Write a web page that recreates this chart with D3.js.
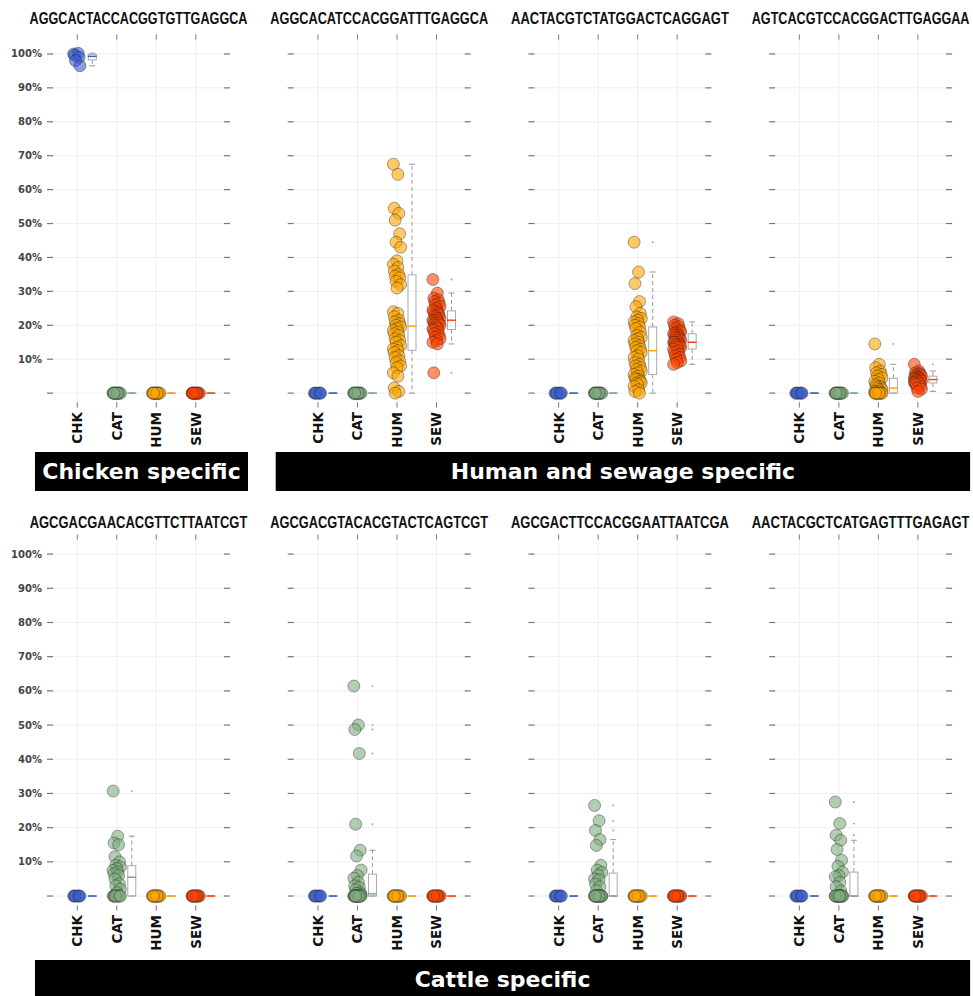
<!DOCTYPE html>
<html lang="en">
<head>
<meta charset="UTF-8">
<title>Marker specificity</title>
<script src="https://d3js.org/d3.v7.min.js"></script>
<style>
  body { margin: 0; background: #fff; }
  svg { display: block; }
</style>
</head>
<body>
<svg id="chart"></svg>
<script>
const width = 973, height = 996;

// categories and colours
const groups = ["CHK", "CAT", "HUM", "SEW"];
const groupColors = ["#3a5fcd", "#7fae7f", "#ffa500", "#ff4500"];
const yTicks = [0, 10, 20, 30, 40, 50, 60, 70, 80, 90, 100];
const yTickLabels = ["", "10%", "20%", "30%", "40%", "50%", "60%", "70%", "80%", "90%", "100%"];

// panel titles (probe sequences), row by row
const sequences = [
  "AGGCACTACCACGGTGTTGAGGCA", "AGGCACATCCACGGATTTGAGGCA",
  "AACTACGTCTATGGACTCAGGAGT", "AGTCACGTCCACGGACTTGAGGAA",
  "AGCGACGAACACGTTCTTAATCGT", "AGCGACGTACACGTACTCAGTCGT",
  "AGCGACTTCCACGGAATTAATCGA", "AACTACGCTCATGAGTTTGAGAGT"
];

// banners: label, row, first panel column, last panel column
const bannerLabels = ["Chicken specific", "Human and sewage specific", "Cattle specific"];
const bannerRows = [0, 0, 1];
const bannerFrom = [0, 1, 0];
const bannerTo = [0, 3, 3];

// samples with no signal (relative abundance %, all zero)
const chkZero = [0, 0, 0, 0, 0, 0];
const catZero = [0, 0, 0, 0, 0, 0, 0, 0, 0, 0, 0, 0];
const humZero = [0, 0, 0, 0, 0, 0, 0, 0, 0, 0, 0, 0];
const sewZero = [0, 0, 0, 0, 0, 0, 0, 0, 0, 0, 0, 0];

// panel 1: chicken marker
const chk1 = [100, 100.2, 99.6, 99, 98, 96.5];

// panel 2
const hum2 = [67.5, 64.5, 54.5, 53, 51, 47, 44.5, 43, 39, 38, 37, 36, 35, 34.5, 34, 33, 32, 31,
  24, 23.5, 22.5, 21.5, 21, 20.5, 20, 19.5, 19, 18.5, 18, 17.5, 17, 16, 15.5, 15, 14, 13.5, 13,
  12.5, 12, 11, 10.5, 9.5, 9, 8, 7.5, 6, 5, 1.5, 0.5, 0];
const sew2 = [33.5, 29.5, 28, 27.5, 27, 26.5, 26, 25.5, 25, 24.5, 24, 24, 23.5, 23, 23, 22.5, 22,
  22, 21.5, 21.5, 21, 21, 20.5, 20.5, 20, 20, 19.5, 19, 19, 18.5, 18, 17.5, 17, 16.5, 16, 15.5,
  15, 14.5, 6];

// panel 3
const hum3 = [44.5, 35.7, 32.3, 27, 25.5, 23.5, 22.5, 22, 21.5, 21, 20.5, 20, 19.5, 19, 18, 17,
  16.5, 16, 15.5, 15, 14.5, 14, 13.5, 13, 12.5, 12, 11, 10.5, 10, 9, 8.5, 8, 7.5, 7, 6.5, 6, 5.5,
  5, 4.5, 4, 4, 3.5, 3, 3, 2.5, 2, 1, 0.5, 0];
const sew3 = [21, 20.5, 20, 19.5, 19, 18.5, 18, 18, 17.5, 17.5, 17, 17, 16.5, 16.5, 16, 16, 15.5,
  15.5, 15, 15, 15, 14.5, 14.5, 14, 14, 13.5, 13.5, 13, 12.5, 12, 11.5, 11, 10.5, 10, 9.5, 9, 8.5];

// panel 4
const hum4 = [14.5, 8.5, 7.5, 6.5, 6, 5.5, 5, 4.5, 4, 3.5, 3, 2.5, 2, 2, 1.5, 1.5, 1, 1, 0.5, 0.5,
  0, 0, 0, 0, 0, 0, 0, 0, 0, 0];
const sew4 = [8.5, 6.5, 6, 5.8, 5.5, 5.5, 5, 5, 4.8, 4.5, 4.5, 4.3, 4.2, 4, 4, 3.8, 3.5, 3.5, 3.2,
  3, 3, 2.8, 2.5, 2, 1.5, 1.2, 0.5];

// bottom row: cattle markers
const cat5 = [30.7, 17.5, 15.5, 15, 11.5, 10, 9, 8.5, 8, 7.5, 7, 6.5, 6, 5, 3.5, 3, 2, 1,
  0, 0, 0, 0, 0, 0, 0, 0];
const cat6 = [61.4, 50, 48.7, 41.7, 21, 13.4, 11.7, 7.6, 6, 5.2, 4, 3, 2.5, 1.8, 1, 0.8, 0.5,
  0, 0, 0, 0, 0, 0, 0, 0, 0, 0, 0, 0, 0, 0, 0];
const cat7 = [26.5, 22, 19.2, 16.5, 14.8, 9, 7.6, 6.9, 6.1, 5, 4.7, 3.5, 2.7, 1.5,
  0, 0, 0, 0, 0, 0, 0, 0, 0, 0, 0, 0, 0, 0, 0, 0];
const cat8 = [27.5, 21.2, 17.8, 16.3, 13.6, 10.5, 8.7, 7, 6, 5.6, 4, 2.7, 1.5,
  0, 0, 0, 0, 0, 0, 0, 0, 0, 0, 0, 0, 0, 0, 0, 0];

// values per panel, in the order CHK, CAT, HUM, SEW
const panelValues = [
  [chk1, catZero, humZero, sewZero],
  [chkZero, catZero, hum2, sew2],
  [chkZero, catZero, hum3, sew3],
  [chkZero, catZero, hum4, sew4],
  [chkZero, cat5, humZero, sewZero],
  [chkZero, cat6, humZero, sewZero],
  [chkZero, cat7, humZero, sewZero],
  [chkZero, cat8, humZero, sewZero]
];

const svg = d3.select("#chart").attr("width", width).attr("height", height);
svg.append("rect").attr("width", width).attr("height", height).attr("fill", "#fff");

const colStep = 240.7;
const rowRanges = [[405, 37], [908, 537]];   // y range for each row (bottom, top)
const titleY = [24, 528];
const labelY = [412, 915];
const bannerY = [452, 960];
const bannerH = [39, 40];

function xScaleFor(col) {
  return d3.scaleLinear().domain([-0.69, 3.79]).range([50 + col * colStep, 227 + col * colStep]);
}

// small deterministic horizontal spread so overlapping points stay visible
const jitter = (i) => ((i * 5) % 9 - 4) * 0.9;

function boxStats(vals) {
  const s = vals.slice().sort(d3.ascending);
  const q1 = d3.quantile(s, 0.25), med = d3.quantile(s, 0.5), q3 = d3.quantile(s, 0.75);
  const iqr = q3 - q1;
  const lo = d3.min(s.filter(v => v >= q1 - 1.5 * iqr));
  const hi = d3.max(s.filter(v => v <= q3 + 1.5 * iqr));
  const out = s.filter(v => v < lo || v > hi);
  return { q1, med, q3, lo, hi, out };
}

panelValues.forEach((vals, p) => {
  const row = Math.floor(p / 4), col = p % 4;
  const x = xScaleFor(col);
  const y = d3.scaleLinear().domain([-3.5, 105]).range(rowRanges[row]);
  const g = svg.append("g");
  const [x0, x1] = x.range();

  // grid
  g.selectAll(".hgrid").data(yTicks).join("line")
    .attr("x1", x0).attr("x2", x1)
    .attr("y1", d => y(d)).attr("y2", d => y(d))
    .attr("stroke", "#efefef").attr("stroke-width", 1);
  g.selectAll(".vgrid").data(groups).join("line")
    .attr("x1", (d, i) => x(i)).attr("x2", (d, i) => x(i))
    .attr("y1", y(105)).attr("y2", y(-3.5))
    .attr("stroke", "#efefef").attr("stroke-width", 1);

  // y ticks on both sides
  [x0, x1].forEach(xt => {
    g.selectAll(null).data(yTicks).join("line")
      .attr("x1", xt - 3).attr("x2", xt + 3)
      .attr("y1", d => y(d)).attr("y2", d => y(d))
      .attr("stroke", "#777").attr("stroke-width", 1.2);
  });
  if (col === 0) {
    g.selectAll(".ylab").data(yTicks).join("text")
      .attr("x", x0 - 8).attr("y", d => y(d)).attr("dy", "0.35em")
      .attr("text-anchor", "end")
      .attr("font-family", "DejaVu Sans").attr("font-weight", "bold")
      .attr("font-size", 10).attr("fill", "#444")
      .text((d, i) => yTickLabels[i]);
  }

  // x ticks top and bottom
  [y(105), y(-3.5)].forEach(yt => {
    g.selectAll(null).data(groups).join("line")
      .attr("x1", (d, i) => x(i)).attr("x2", (d, i) => x(i))
      .attr("y1", yt - 2.5).attr("y2", yt + 2.5)
      .attr("stroke", "#777").attr("stroke-width", 1);
  });
  g.selectAll(".xlab").data(groups).join("text")
    .attr("transform", (d, i) => `translate(${x(i)},${labelY[row]}) rotate(-90)`)
    .attr("dy", "0.36em").attr("text-anchor", "end")
    .attr("font-family", "DejaVu Sans").attr("font-weight", "bold")
    .attr("font-size", 13.5).attr("fill", "#111")
    .text(d => d);

  // title: narrow bold look, obtained by squeezing the glyphs horizontally
  const title = g.append("text")
    .attr("text-anchor", "middle")
    .attr("font-family", "Liberation Sans, Arial, sans-serif").attr("font-weight", "bold")
    .attr("font-size", 16).attr("fill", "#111")
    .text(sequences[p]);
  const squeeze = 218 / title.node().getComputedTextLength();
  title.attr("transform", `translate(${(x0 + x1) / 2},${titleY[row]}) scale(${squeeze},1)`);

  // box plots
  vals.forEach((v, gi) => {
    const st = boxStats(v);
    const bx = x(gi + 0.38);
    const bw = 8;
    const bg = g.append("g");
    bg.append("line")
      .attr("x1", bx).attr("x2", bx).attr("y1", y(st.q3)).attr("y2", y(st.hi))
      .attr("stroke", "#999").attr("stroke-dasharray", "4,3");
    bg.append("line")
      .attr("x1", bx).attr("x2", bx).attr("y1", y(st.q1)).attr("y2", y(st.lo))
      .attr("stroke", "#999").attr("stroke-dasharray", "4,3");
    [st.hi, st.lo].forEach(w => bg.append("line")
      .attr("x1", bx - 3).attr("x2", bx + 3).attr("y1", y(w)).attr("y2", y(w))
      .attr("stroke", "#999"));
    bg.append("rect")
      .attr("x", bx - bw / 2).attr("width", bw)
      .attr("y", y(st.q3)).attr("height", Math.max(0, y(st.q1) - y(st.q3)))
      .attr("fill", "none").attr("stroke", "#aaa");
    bg.selectAll("circle").data(st.out).join("circle")
      .attr("cx", bx).attr("cy", d => y(d)).attr("r", 0.9).attr("fill", "#999");
    bg.append("line")
      .attr("x1", bx - bw / 2 - 0.5).attr("x2", bx + bw / 2 + 0.5)
      .attr("y1", y(st.med)).attr("y2", y(st.med))
      .attr("stroke", groupColors[gi]).attr("stroke-width", 1.5);
  });

  // points
  vals.forEach((v, gi) => {
    g.append("g").selectAll("circle").data(v).join("circle")
      .attr("cx", (d, i) => x(gi) + jitter(i))
      .attr("cy", d => y(d))
      .attr("r", 6)
      .attr("fill", groupColors[gi]).attr("fill-opacity", 0.6)
      .attr("stroke", "#222").attr("stroke-opacity", 0.5).attr("stroke-width", 0.8);
  });
});

// banners
bannerLabels.forEach((label, b) => {
  const row = bannerRows[b];
  const left = xScaleFor(bannerFrom[b]).range()[0] - 15;
  const right = xScaleFor(bannerTo[b]).range()[1] + 21;
  svg.append("rect")
    .attr("x", left).attr("y", bannerY[row])
    .attr("width", right - left).attr("height", bannerH[row])
    .attr("fill", "#000");
  svg.append("text")
    .attr("x", (left + right) / 2).attr("y", bannerY[row] + 19)
    .attr("dy", "0.36em").attr("text-anchor", "middle")
    .attr("font-family", "DejaVu Sans").attr("font-weight", "bold")
    .attr("font-size", 22).attr("fill", "#fff")
    .text(label);
});
</script>
</body>
</html>
